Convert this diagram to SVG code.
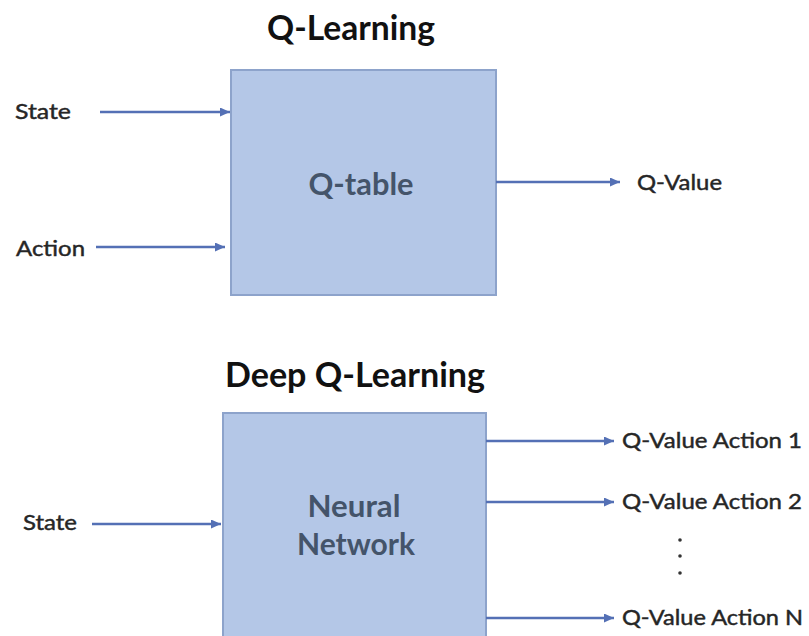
<svg xmlns="http://www.w3.org/2000/svg" width="809" height="636" viewBox="0 0 809 636">
  <style>
    .title { font-family: Lato, "Liberation Sans", sans-serif; font-weight: bold; font-size: 35px; fill: #111111; }
    .label { font-family: Lato, "Liberation Sans", sans-serif; font-size: 21.5px; fill: #262626; stroke: #262626; stroke-width: 0.45; }
    .box { fill: #b4c7e7; stroke: #8da3cb; stroke-width: 2; }
    .boxtext { font-family: Lato, "Liberation Sans", sans-serif; font-weight: bold; font-size: 30px; fill: #44546a; text-anchor: middle; }
    .arrow { stroke: #5470b5; stroke-width: 2.5; fill: none; marker-end: url(#head); }
    .dot { fill: #333333; }
  </style>
  <defs>
    <marker id="head" markerUnits="userSpaceOnUse" markerWidth="11" markerHeight="10" refX="10" refY="4.5" orient="auto">
      <path d="M0,0 L10,4.5 L0,9 z" fill="#5470b5"/>
    </marker>
  </defs>
  <rect width="809" height="636" fill="#ffffff"/>

  <!-- Q-Learning section -->
  <text class="title" x="267" y="40" textLength="168" lengthAdjust="spacingAndGlyphs">Q-Learning</text>
  <g id="q-table">
    <rect class="box" x="231" y="70" width="265" height="225"/>
    <text class="boxtext" x="361" y="195" textLength="105" lengthAdjust="spacingAndGlyphs">Q-table</text>
  </g>
  <g id="state-top">
    <text class="label" x="15" y="119" textLength="56" lengthAdjust="spacingAndGlyphs">State</text>
  </g>
  <g id="action-top">
    <text class="label" x="16" y="256" textLength="69" lengthAdjust="spacingAndGlyphs">Action</text>
  </g>
  <g id="q-value">
    <text class="label" x="637" y="190" textLength="85" lengthAdjust="spacingAndGlyphs">Q-Value</text>
  </g>

  <!-- Deep Q-Learning section -->
  <text class="title" x="225" y="387" textLength="260" lengthAdjust="spacingAndGlyphs">Deep Q-Learning</text>
  <g id="neural-network">
    <rect class="box" x="223" y="413" width="263" height="240"/>
    <text class="boxtext" x="354" y="517" textLength="93" lengthAdjust="spacingAndGlyphs">Neural</text>
    <text class="boxtext" x="356" y="555" textLength="118" lengthAdjust="spacingAndGlyphs">Network</text>
  </g>
  <g id="state-bottom">
    <text class="label" x="23" y="530" textLength="54" lengthAdjust="spacingAndGlyphs">State</text>
  </g>
  <g id="q-action-1">
    <text class="label" x="622" y="448" textLength="180" lengthAdjust="spacingAndGlyphs">Q-Value Action 1</text>
  </g>
  <g id="q-action-2">
    <text class="label" x="622" y="509" textLength="180" lengthAdjust="spacingAndGlyphs">Q-Value Action 2</text>
  </g>
  <g id="ellipsis">
    <circle class="dot" cx="680" cy="540" r="1.8"/>
    <circle class="dot" cx="680" cy="556" r="1.8"/>
    <circle class="dot" cx="680" cy="573" r="1.8"/>
  </g>
  <g id="q-action-n">
    <text class="label" x="622" y="625" textLength="181" lengthAdjust="spacingAndGlyphs">Q-Value Action N</text>
  </g>

  <!-- connectors -->
  <g id="connectors">
    <line class="arrow" x1="100" y1="112" x2="230" y2="112"/>
    <line class="arrow" x1="96" y1="247" x2="225" y2="247"/>
    <line class="arrow" x1="496" y1="182" x2="620" y2="182"/>
    <line class="arrow" x1="92" y1="524" x2="221" y2="524"/>
    <line class="arrow" x1="486" y1="441" x2="614" y2="441"/>
    <line class="arrow" x1="486" y1="502" x2="614" y2="502"/>
    <line class="arrow" x1="486" y1="618" x2="614" y2="618"/>
  </g>
</svg>
